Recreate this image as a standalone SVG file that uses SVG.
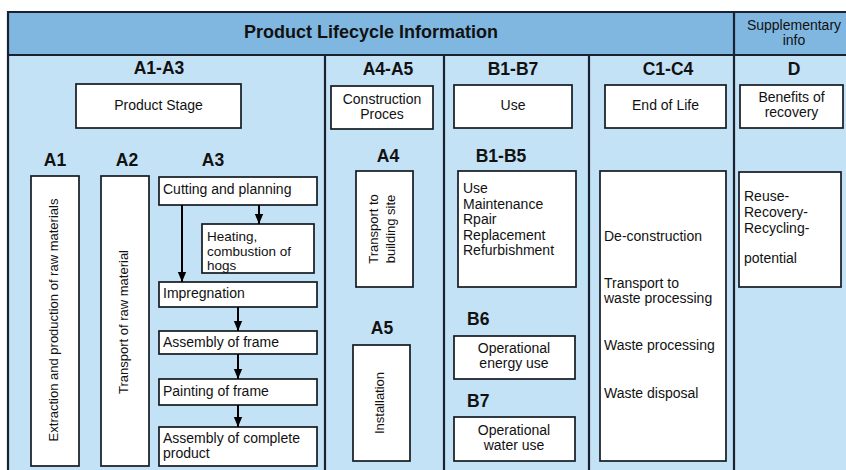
<svg xmlns="http://www.w3.org/2000/svg" width="846" height="470" viewBox="0 0 846 470">
<style>
text{font-family:"Liberation Sans",Arial,sans-serif;fill:#111;}
.t{font-size:14px;}
.s{font-size:13.5px;}
.r{font-size:13px;}
.h{font-size:17.5px;font-weight:bold;}
.ttl{font-size:18px;font-weight:bold;}
.m{text-anchor:middle;}
.box{fill:#fff;stroke:#151a22;stroke-width:1.7;}
.div{stroke:#1a2230;stroke-width:2.2;fill:none;}
.conn{stroke:#000;stroke-width:2;fill:none;marker-end:url(#ah);}
</style>
<defs>
<marker id="ah" markerWidth="10" markerHeight="12" refX="12" refY="5" orient="auto" markerUnits="userSpaceOnUse" viewBox="0 0 12 10">
<path d="M0,0 L12,5 L0,10 z" fill="#000"/>
</marker>
</defs>
<rect x="0" y="0" width="846" height="470" fill="#fff"/>
<g id="frame">
<rect x="8" y="12" width="840" height="43" fill="#80b7e1"/>
<rect x="8" y="55" width="840" height="420" fill="#c3e2f5"/>
<path class="div" d="M8,480 V12 H848 M8,55 H848 M325,55 V480 M444,55 V480 M589,55 V480 M734,12 V480"/>
<text class="ttl m" x="371" y="38">Product Lifecycle Information</text>
<text class="t m" x="794" y="30">Supplementary</text>
<text class="t m" x="794" y="45">info</text>
</g>
<g id="labels">
<text class="h m" x="159" y="74">A1-A3</text>
<text class="h m" x="388" y="75">A4-A5</text>
<text class="h m" x="513" y="75">B1-B7</text>
<text class="h m" x="668" y="75">C1-C4</text>
<text class="h m" x="794" y="75">D</text>
<text class="h m" x="55" y="166">A1</text>
<text class="h m" x="127" y="166">A2</text>
<text class="h m" x="213" y="166">A3</text>
<text class="h m" x="388" y="162">A4</text>
<text class="h m" x="501" y="162">B1-B5</text>
<text class="h m" x="382" y="334">A5</text>
<text class="h" x="467" y="325">B6</text>
<text class="h" x="467" y="407">B7</text>
</g>
<g id="product-stage"><rect class="box" x="76" y="84" width="165" height="44"/><text class="t m" x="158.5" y="110">Product Stage</text></g>
<g id="construction-process"><rect class="box" x="331" y="86" width="102" height="43"/><text class="t m" x="382" y="104">Construction</text><text class="t m" x="382" y="119">Proces</text></g>
<g id="use"><rect class="box" x="454" y="85" width="118" height="43"/><text class="t m" x="513" y="110">Use</text></g>
<g id="end-of-life"><rect class="box" x="605" y="85" width="121" height="43"/><text class="t m" x="665.5" y="110">End of Life</text></g>
<g id="benefits"><rect class="box" x="740" y="85" width="103" height="43"/><text class="t m" x="791.5" y="102">Benefits of</text><text class="t m" x="791.5" y="117">recovery</text></g>
<g id="a1"><rect class="box" x="31" y="176" width="48" height="290"/><text class="r m" transform="translate(58,320) rotate(-90)">Extraction and production of raw materials</text></g>
<g id="a2"><rect class="box" x="101" y="176" width="48" height="290"/><text class="r m" transform="translate(128,322) rotate(-90)">Transport of raw material</text></g>
<g id="cutting"><rect class="box" x="159" y="177" width="158" height="28"/><text class="t" x="163" y="194">Cutting and planning</text></g>
<g id="heating"><rect class="box" x="202" y="224" width="112" height="49"/><text class="s" x="207" y="241">Heating,</text><text class="s" x="207" y="255.5">combustion of</text><text class="s" x="207" y="270">hogs</text></g>
<g id="impregnation"><rect class="box" x="159" y="282" width="158" height="25"/><text class="t" x="163" y="298">Impregnation</text></g>
<g id="assembly-frame"><rect class="box" x="159" y="331" width="158" height="23"/><text class="t" x="163" y="347">Assembly of frame</text></g>
<g id="painting"><rect class="box" x="159" y="379" width="158" height="26"/><text class="t" x="163" y="396">Painting of frame</text></g>
<g id="assembly-complete"><rect class="box" x="159" y="427" width="158" height="39"/><text class="t" x="163" y="443">Assembly of complete</text><text class="t" x="163" y="458">product</text></g>
<g id="a4"><rect class="box" x="356" y="171" width="57" height="116"/><text class="r m" transform="translate(378,229) rotate(-90)">Transport to</text><text class="r m" transform="translate(394.5,229) rotate(-90)">building site</text></g>
<g id="a5"><rect class="box" x="353" y="345" width="57" height="116"/><text class="r m" transform="translate(384,403) rotate(-90)">Installation</text></g>
<g id="b1-b5"><rect class="box" x="458" y="171" width="118" height="116"/>
<text class="t" x="463" y="193">Use</text><text class="t" x="463" y="208.5">Maintenance</text><text class="t" x="463" y="224">Rpair</text><text class="t" x="463" y="239.5">Replacement</text><text class="t" x="463" y="255">Refurbishment</text></g>
<g id="b6"><rect class="box" x="454" y="336" width="121" height="43"/><text class="t m" x="514" y="353">Operational</text><text class="t m" x="514" y="368">energy use</text></g>
<g id="b7"><rect class="box" x="454" y="417" width="121" height="44"/><text class="t m" x="514" y="435">Operational</text><text class="t m" x="514" y="450">water use</text></g>
<g id="c1-c4"><rect class="box" x="600" y="171" width="126" height="290"/>
<text class="t" x="604" y="241">De-construction</text><text class="t" x="604" y="288">Transport to</text><text class="t" x="604" y="303">waste processing</text><text class="t" x="604" y="350">Waste processing</text><text class="t" x="604" y="398">Waste disposal</text></g>
<g id="d"><rect class="box" x="739" y="172" width="102" height="115"/>
<text class="t" x="744" y="201">Reuse-</text><text class="t" x="744" y="217">Recovery-</text><text class="t" x="744" y="233">Recycling-</text><text class="t" x="744" y="263">potential</text></g>
<g id="connectors">
<line class="conn" x1="182" y1="205" x2="182" y2="282"/>
<line class="conn" x1="259" y1="205" x2="259" y2="224"/>
<line class="conn" x1="238" y1="307" x2="238" y2="331"/>
<line class="conn" x1="238" y1="354" x2="238" y2="379"/>
<line class="conn" x1="238" y1="405" x2="238" y2="427"/>
</g>
</svg>
